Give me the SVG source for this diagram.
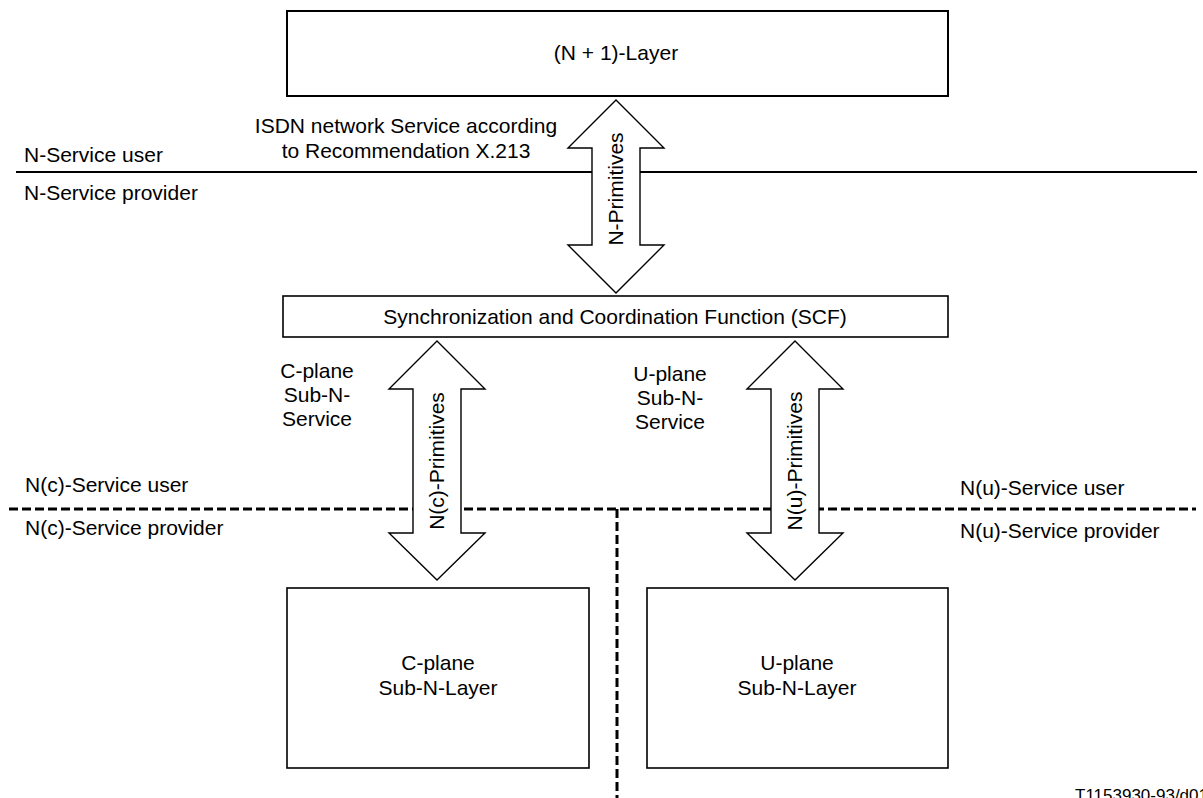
<svg xmlns="http://www.w3.org/2000/svg" width="1203" height="798" viewBox="0 0 1203 798">
<style>
text{font-family:"Liberation Sans",Arial,sans-serif;font-size:21px;fill:#000}
.box{fill:#fff;stroke:#000;stroke-width:1.6}
.arr{fill:#fff;stroke:#000;stroke-width:1.4;stroke-linejoin:miter}
.solid{stroke:#000;stroke-width:2;fill:none}
.dash{stroke:#000;stroke-width:3;stroke-dasharray:9 4;fill:none}
.c{text-anchor:middle}
</style>
<rect width="1203" height="798" fill="#fff"/>
<g id="boundaries">
<line class="solid" x1="16" y1="172" x2="1197" y2="172"/>
<line class="dash" x1="9" y1="509" x2="1196" y2="509"/>
<line class="dash" x1="617" y1="509" x2="617" y2="798"/>
</g>
<g id="labels">
<text x="24" y="162">N-Service user</text>
<text x="24" y="200">N-Service provider</text>
<text class="c" x="406" y="133">ISDN network Service according</text>
<text class="c" x="406" y="158">to Recommendation X.213</text>
<text class="c" x="317" y="378">C-plane</text>
<text class="c" x="317" y="402">Sub-N-</text>
<text class="c" x="317" y="426">Service</text>
<text class="c" x="670" y="381">U-plane</text>
<text class="c" x="670" y="405">Sub-N-</text>
<text class="c" x="670" y="429">Service</text>
<text x="25" y="492">N(c)-Service user</text>
<text x="25" y="535">N(c)-Service provider</text>
<text x="960" y="495">N(u)-Service user</text>
<text x="960" y="538">N(u)-Service provider</text>
<text x="1075" y="801" style="font-size:17px">T1153930-93/d01</text>
</g>
<g id="n1-layer">
<rect class="box" x="287" y="11" width="661" height="85" style="stroke-width:2"/>
<text class="c" x="616" y="60">(N + 1)-Layer</text>
</g>
<g id="scf">
<rect class="box" x="283" y="296" width="665" height="41"/>
<text class="c" x="615" y="324">Synchronization and Coordination Function (SCF)</text>
</g>
<g id="c-plane-layer">
<rect class="box" x="287" y="588" width="302" height="180"/>
<text class="c" x="438" y="670">C-plane</text>
<text class="c" x="438" y="695">Sub-N-Layer</text>
</g>
<g id="u-plane-layer">
<rect class="box" x="647" y="588" width="301" height="180"/>
<text class="c" x="797" y="670">U-plane</text>
<text class="c" x="797" y="695">Sub-N-Layer</text>
</g>
<g id="connectors">
<g id="n-primitives">
<polygon class="arr" points="616,100 664,148 640,148 640,245 664,245 616,293 568,245 592,245 592,148 568,148"/>
<text class="c" transform="translate(616,189) rotate(-90)" dy="0.35em">N-Primitives</text>
</g>
<g id="nc-primitives">
<polygon class="arr" points="437,341 485,389 461,389 461,533 485,533 437,580 389,533 413,533 413,389 389,389"/>
<text class="c" transform="translate(437,461) rotate(-90)" dy="0.35em">N(c)-Primitives</text>
</g>
<g id="nu-primitives">
<polygon class="arr" points="795,341 843,389 819,389 819,533 843,533 795,580 747,533 771,533 771,389 747,389"/>
<text class="c" transform="translate(795,461) rotate(-90)" dy="0.35em">N(u)-Primitives</text>
</g>
</g>
</svg>
